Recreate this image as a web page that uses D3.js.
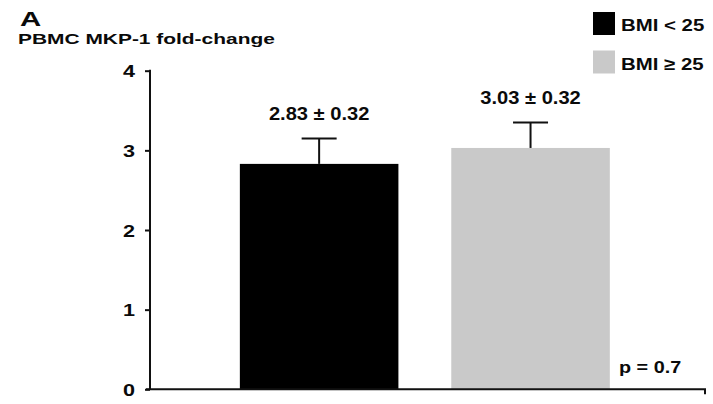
<!DOCTYPE html>
<html>
<head>
<meta charset="utf-8">
<script src="https://cdn.jsdelivr.net/npm/d3@7"></script>
<style>
  html, body { margin: 0; padding: 0; background: #fff; }
  svg { display: block; }
  text { font-family: "Liberation Sans", Arial, Helvetica, sans-serif; font-weight: bold; fill: #0a0a0a; }
</style>
</head>
<body>
<svg id="chart" width="713" height="404"></svg>
<script>
// Groups, means and standard errors
const groups = ["BMI < 25", "BMI \u2265 25"];
const means = [2.83, 3.03];
const errors = [0.32, 0.32];
const colors = ["#000000", "#c9c9c9"];
const yTicks = [0, 1, 2, 3, 4];
const panelLabel = "A";
const yTitle = "PBMC MKP-1 fold-change";
const pText = "p = 0.7";

const svg = d3.select("#chart");

const x = d3.scaleBand()
  .domain(groups)
  .range([150, 706])
  .paddingInner(0.25)
  .paddingOuter(0.44)
  .align(0.483);

const y = d3.scaleLinear().domain([0, 4]).range([389.3, 70.7]);

// Stretched text helper: glyphs are widened horizontally around their anchor
function stretchedText(g, str, px, py, size, sx, anchor) {
  return g.append("text")
    .attr("transform", `translate(${px},${py}) scale(${sx},1)`)
    .attr("text-anchor", anchor || "start")
    .style("font-size", size + "px")
    .text(str);
}

// Bars
svg.append("g").selectAll("rect")
  .data(groups)
  .join("rect")
  .attr("x", d => x(d))
  .attr("width", x.bandwidth())
  .attr("y", (d, i) => y(means[i]))
  .attr("height", (d, i) => y(0) - y(means[i]))
  .attr("fill", (d, i) => colors[i]);

// Error bars (upper whisker only)
const capHalf = 17.5;
const eb = svg.append("g").attr("stroke", "#111").attr("stroke-width", 2);
groups.forEach((g, i) => {
  const cx = x(g) + x.bandwidth() / 2;
  eb.append("line")
    .attr("x1", cx).attr("x2", cx)
    .attr("y1", y(means[i])).attr("y2", y(means[i] + errors[i]));
  eb.append("line")
    .attr("x1", cx - capHalf).attr("x2", cx + capHalf)
    .attr("y1", y(means[i] + errors[i])).attr("y2", y(means[i] + errors[i]));
});

// Value labels
groups.forEach((g, i) => {
  const cx = x(g) + x.bandwidth() / 2;
  stretchedText(svg, `${means[i].toFixed(2)} \u00b1 ${errors[i].toFixed(2)}`,
    cx, y(means[i] + errors[i]) - 18, 17.5, 1.15, "middle");
});

// Y axis
const yAxis = svg.append("g")
  .attr("transform", "translate(150,0)")
  .call(d3.axisLeft(y).tickValues(yTicks).tickSize(5).tickSizeOuter(0).tickFormat(""));
yAxis.selectAll("path, line").attr("stroke", "#111").attr("stroke-width", 2);
yAxis.select(".domain").attr("d", `M0,${y(4) - 1}V${y(0)}`);
yAxis.selectAll(".tick").each(function(d) {
  stretchedText(d3.select(this), String(d), -15, 6, 16, 1.35, "end");
});

// X axis baseline with end tick
svg.append("path")
  .attr("d", `M146,${y(0)}H705V${y(0) + 5}`)
  .attr("fill", "none")
  .attr("stroke", "#111")
  .attr("stroke-width", 2);

// Panel letter and axis title
stretchedText(svg, panelLabel, 20, 26, 21, 1.4);
stretchedText(svg, yTitle, 18, 43.5, 15.5, 1.35);

// Legend
const legend = svg.append("g");
groups.forEach((g, i) => {
  const ly = 12 + i * 38.5;
  legend.append("rect")
    .attr("x", 593).attr("y", ly)
    .attr("width", 22).attr("height", 23)
    .attr("fill", colors[i]);
  stretchedText(legend, g, 621, ly + 19, 17, 1.2);
});

// Significance note
stretchedText(svg, pText, 619, 373, 16.5, 1.2);
</script>
</body>
</html>
